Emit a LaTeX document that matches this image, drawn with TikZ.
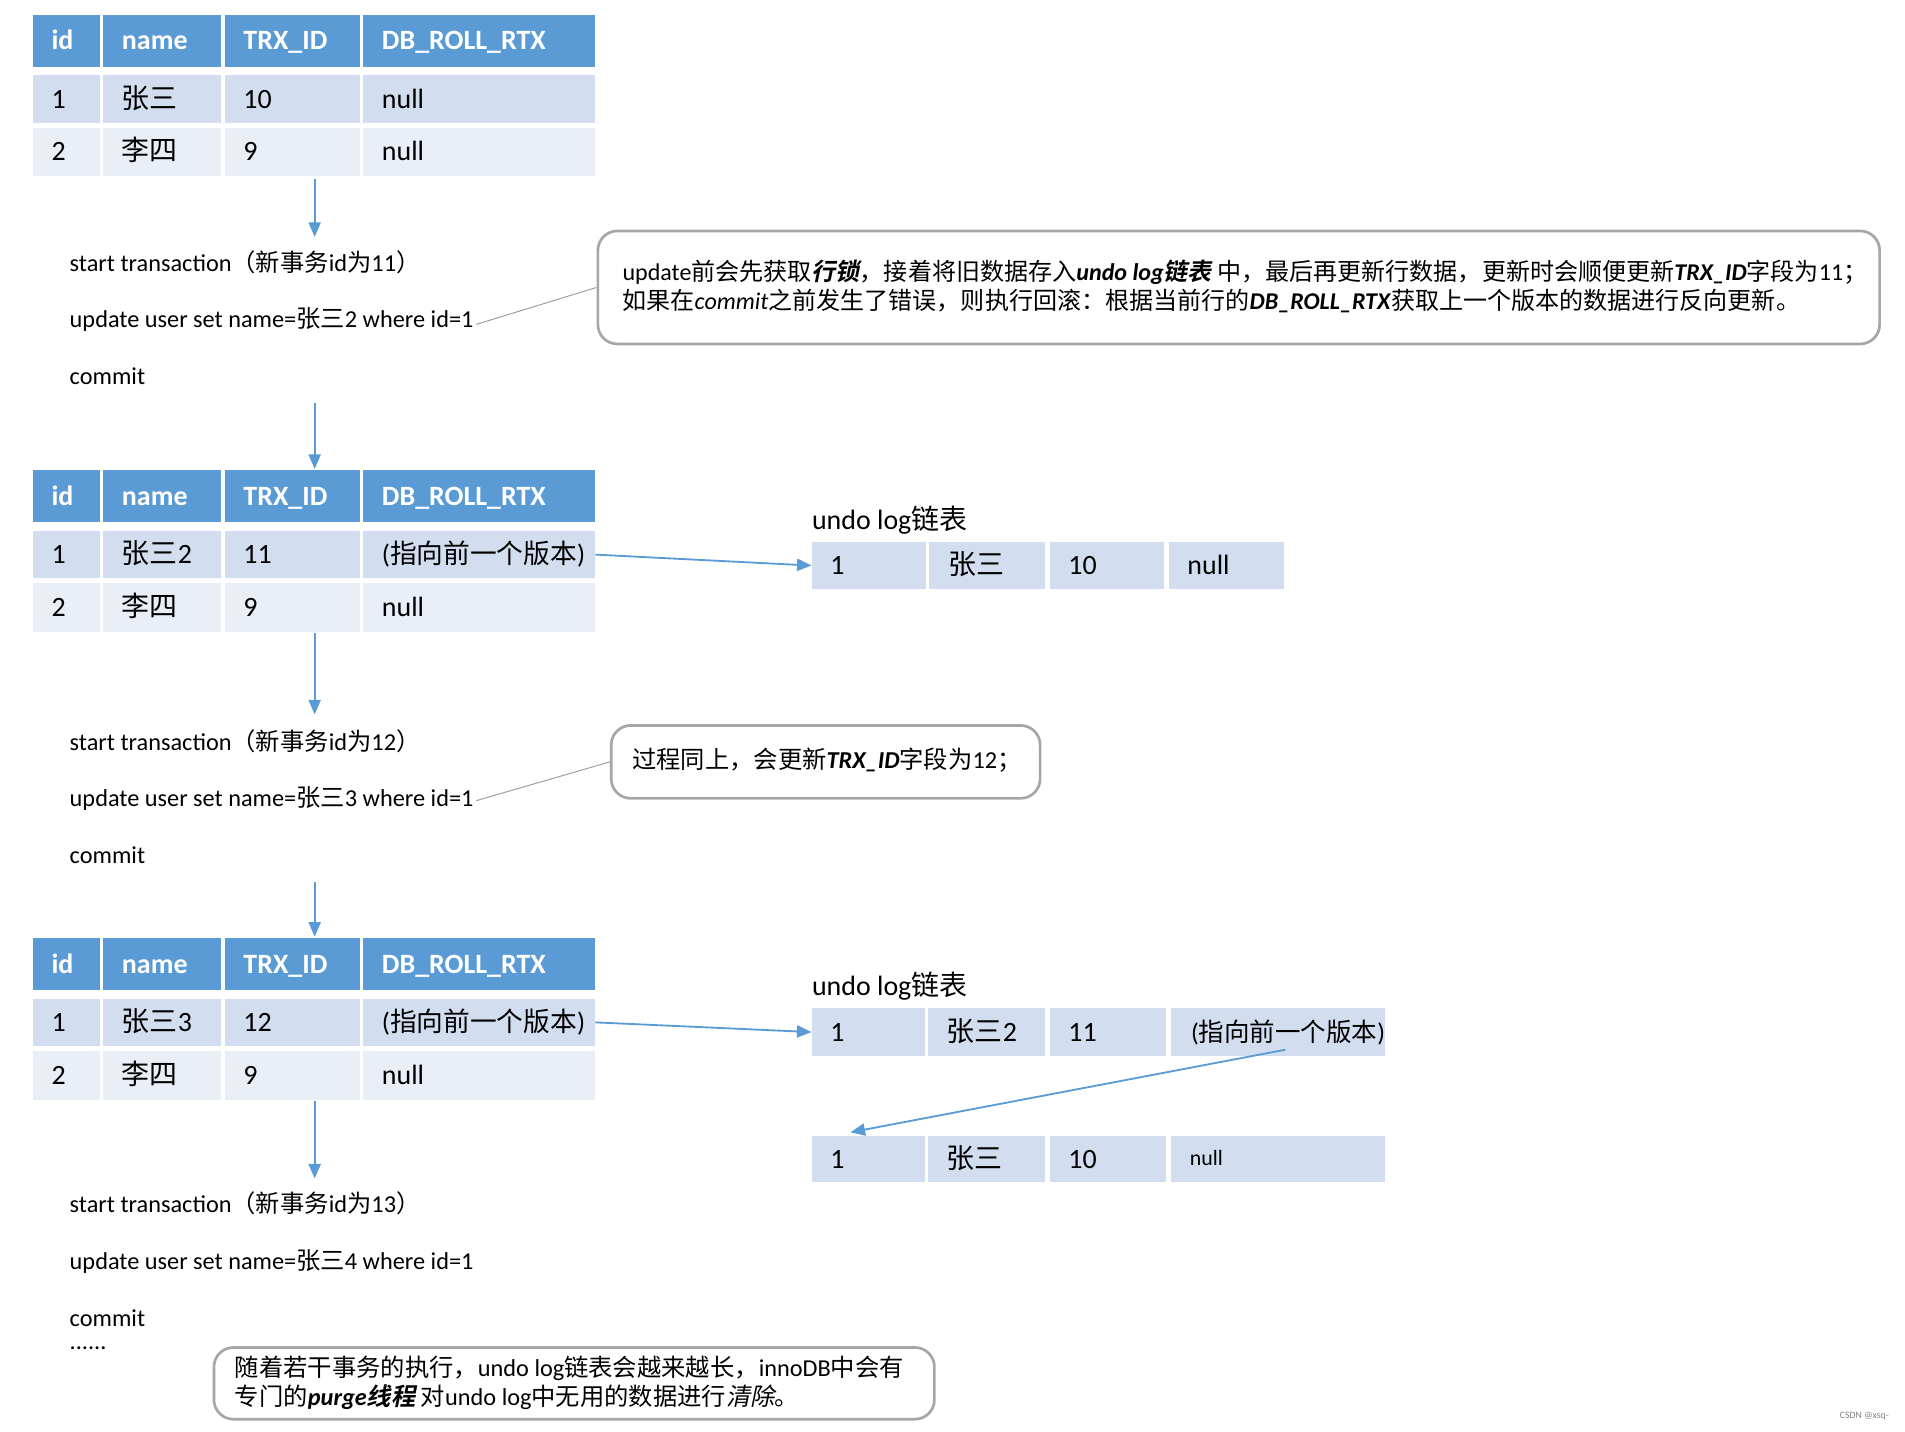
\documentclass[tikz,border=0pt]{standalone}
\usepackage{fontspec}
\setmainfont{Carlito}
\newfontfamily\cjkf{Noto Sans CJK SC}[ItalicFont=*, ItalicFeatures={FakeSlant=0.2}, BoldFont=* Bold, BoldItalicFont=* Bold, BoldItalicFeatures={FakeSlant=0.2}]
\newcommand\zh[1]{{\cjkf #1}}
\usetikzlibrary{arrows.meta}
\definecolor{hdr}{HTML}{5B9BD5}
\definecolor{rowa}{HTML}{D2DEEF}
\definecolor{rowb}{HTML}{EAEFF7}
\definecolor{boxgray}{HTML}{A6A6A6}
\definecolor{linegray}{HTML}{9E9E9E}
\newcommand\hdt[1]{\textcolor{white}{\bfseries #1}}
\newcommand\mkcell[7]{%
  \node[cellbox, fill=#6, minimum width={(#4-#2)*0.5pt}, minimum height={(#5-#3)*0.5pt}] (#1) at (#2,#3) {};
  \node[celltext] (#1t) at ([xshift=7.5pt]#1.west) {#7};}
\newcommand\dbtable[5]{%
  \pgfmathsetmacro\yh{#2+43}%
  \pgfmathsetmacro\ya{#2+50}\pgfmathsetmacro\yb{#2+89}%
  \pgfmathsetmacro\yc{#2+93}\pgfmathsetmacro\yd{#2+133}%
  \mkcell{#1h1}{27}{#2}{82}{\yh}{hdr}{\hdt{id}}
  \mkcell{#1h2}{85}{#2}{182}{\yh}{hdr}{\hdt{name}}
  \mkcell{#1h3}{185}{#2}{296}{\yh}{hdr}{\hdt{TRX\_ID}}
  \mkcell{#1h4}{299}{#2}{490}{\yh}{hdr}{\hdt{DB\_ROLL\_RTX}}
  \mkcell{#1a1}{27}{\ya}{82}{\yb}{rowa}{1}
  \mkcell{#1a2}{85}{\ya}{182}{\yb}{rowa}{#3}
  \mkcell{#1a3}{185}{\ya}{296}{\yb}{rowa}{#4}
  \mkcell{#1a4}{299}{\ya}{490}{\yb}{rowa}{#5}
  \mkcell{#1b1}{27}{\yc}{82}{\yd}{rowb}{2}
  \mkcell{#1b2}{85}{\yc}{182}{\yd}{rowb}{\zh{李四}}
  \mkcell{#1b3}{185}{\yc}{296}{\yd}{rowb}{9}
  \mkcell{#1b4}{299}{\yc}{490}{\yd}{rowb}{null}
}
\newcommand\prevver{{\fontsize{11}{13}\selectfont(\zh{指向前一个版本})}}
\begin{document}
\begin{tikzpicture}[x=0.5pt, y=-0.5pt,
  cellbox/.style={draw=none, inner sep=0pt, outer sep=0pt, anchor=north west},
  celltext/.style={anchor=west, inner sep=0pt, text height=9.4pt, text depth=2pt, font=\fontsize{11.5}{13}\selectfont},
  body/.style={anchor=west, inner sep=0pt, font=\fontsize{10}{12}\selectfont},
  notebox/.style={draw=boxgray, line width=1.1pt, rounded corners=8pt, anchor=north west, inner sep=0pt},
  notetext/.style={anchor=west, inner sep=0pt, align=left, font=\fontsize{10}{12}\selectfont},
  flow/.style={draw=hdr, line width=0.75pt, -{Triangle[length=6pt,width=5pt]}},
  thin/.style={draw=linegray, line width=0.4pt}]
\fill[white] (0,0) rectangle (1568,1178);
\useasboundingbox (0,0) rectangle (1568,1178);

% tables
\dbtable{ta}{12}{\zh{张三}}{10}{null}
\dbtable{tb}{387}{\zh{张三}2}{11}{\prevver}
\dbtable{tc}{772}{\zh{张三}3}{12}{\prevver}

% transaction texts
\node[body] (s1) at (57,216) {start transaction\zh{（新事务}id\zh{为}11\zh{）}};
\node[body] (u1) at (57,263) {update user set name=\zh{张三}2 where id=1};
\node[body] (c1) at (57,310) {commit};
\node[body] (s2) at (57,610) {start transaction\zh{（新事务}id\zh{为}12\zh{）}};
\node[body] (u2) at (57,657) {update user set name=\zh{张三}3 where id=1};
\node[body] (c2) at (57,704) {commit};
\node[body] (s3) at (57,990) {start transaction\zh{（新事务}id\zh{为}13\zh{）}};
\node[body] (u3) at (57,1038) {update user set name=\zh{张三}4 where id=1};
\node[body] (c3) at (57,1085) {commit};
\node[body] (dots) at (57,1110) {......};

% vertical arrows
\coordinate (v1s) at (259,147); \coordinate (v1e) at (259,195);
\coordinate (v2s) at (259,332); \coordinate (v2e) at (259,386);
\coordinate (v3s) at (259,521); \coordinate (v3e) at (259,588);
\coordinate (v4s) at (259,726); \coordinate (v4e) at (259,771);
\coordinate (v5s) at (259,906); \coordinate (v5e) at (259,970);
\draw[flow] (v1s) -- (v1e);
\draw[flow] (v2s) -- (v2e);
\draw[flow] (v3s) -- (v3e);
\draw[flow] (v4s) -- (v4e);
\draw[flow] (v5s) -- (v5e);

% notes
\node[notebox, minimum width={1055*0.5pt}, minimum height={93*0.5pt}] (n1) at (491,189) {};
\node[notetext, font=\fontsize{9.9}{12}\selectfont] (n1t) at (512,235.5) {update\zh{前会先获取}\textbf{\textit{\zh{行锁}}}\zh{，接着将旧数据存入}\textbf{\textit{undo log\zh{链表}}} \zh{中，最后再更新行数据，更新时会顺便更新}\textbf{\textit{TRX\_ID}}\zh{字段为}11\zh{；}\\
\zh{如果在}\textit{commit}\zh{之前发生了错误，则执行回滚：根据当前行的}\textbf{\textit{DB\_ROLL\_RTX}}\zh{获取上一个版本的数据进行反向更新。}};
\coordinate (u1end) at (392,267);
\draw[thin] (u1end) -- (n1.west);

\node[notebox, minimum width={353*0.5pt}, minimum height={60*0.5pt}] (n2) at (502,596) {};
\node[notetext] (n2t) at (520,626) {\zh{过程同上，会更新}\textbf{\textit{TRX\_ID}}\zh{字段为}12\zh{；}};
\coordinate (u2end) at (392,659);
\draw[thin] (u2end) -- (n2.west);

\node[notebox, minimum width={593*0.5pt}, minimum height={59*0.5pt}] (n3) at (175,1108) {};
\node[notetext] (n3t) at (193,1138) {\zh{随着若干事务的执行，}undo log\zh{链表会越来越长，}innoDB\zh{中会有}\\
\zh{专门的}\textbf{\textit{purge\zh{线程}}} \zh{对}undo log\zh{中无用的数据进行}\textit{\zh{清除}}\zh{。}};

% undo log 1
\node[celltext, text height=, text depth=] (ul1) at (668,428) {undo log\zh{链表}};
\mkcell{ua1}{668}{446}{762}{485}{rowa}{1}
\mkcell{ua2}{765}{446}{860}{485}{rowa}{\zh{张三}}
\mkcell{ua3}{864}{446}{958}{485}{rowa}{10}
\mkcell{ua4}{962}{446}{1057}{485}{rowa}{null}
\draw[flow] (tba4.east) -- (ua1.west);

% undo log 2
\node[celltext, text height=, text depth=] (ul2) at (668,812) {undo log\zh{链表}};
\mkcell{ub1}{668}{830}{761}{869}{rowa}{1}
\mkcell{ub2}{764}{830}{860}{869}{rowa}{\zh{张三}2}
\mkcell{ub3}{864}{830}{960}{869}{rowa}{11}
\node[cellbox, fill=rowa, minimum width={176*0.5pt}, minimum height={39*0.5pt}] (ub4) at (964,830) {};
\node[celltext, font=\fontsize{10.5}{12}\selectfont] (ub4t) at ([xshift=8pt]ub4.west) {(\zh{指向前一个版本})};
\draw[flow] (tca4.east) -- (ub1.west);

\mkcell{uc1}{668}{935}{761}{973}{rowa}{1}
\mkcell{uc2}{764}{935}{860}{973}{rowa}{\zh{张三}}
\mkcell{uc3}{864}{935}{960}{973}{rowa}{10}
\node[cellbox, fill=rowa, minimum width={176*0.5pt}, minimum height={38*0.5pt}] (uc4) at (964,935) {};
\node[celltext, font=\fontsize{9}{11}\selectfont] (uc4t) at ([xshift=7.5pt,yshift=1pt]uc4.west) {null};
\coordinate (d1) at (1058,864);
\coordinate (d2) at (700,932);
\draw[flow] (d1) -- (d2);

% watermark
\node[anchor=east, inner sep=0pt, text=gray, font=\fontsize{4}{5}\selectfont] (wm) at (1555,1166) {CSDN @xsq-};
\end{tikzpicture}
\end{document}
